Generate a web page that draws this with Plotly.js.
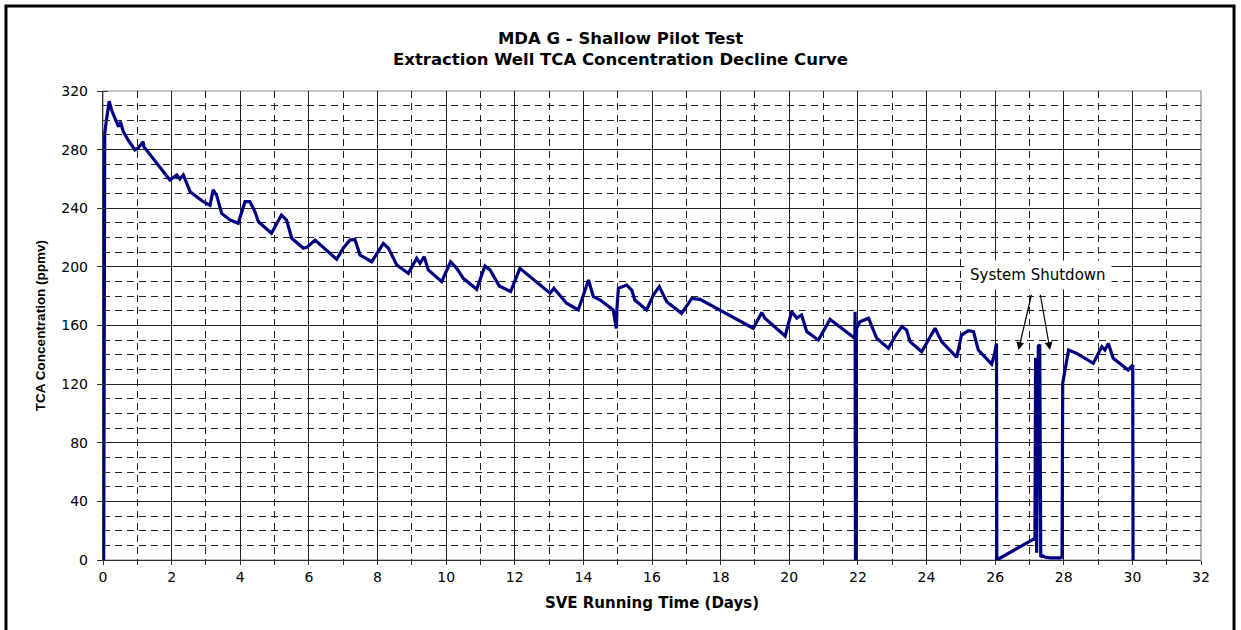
<!DOCTYPE html>
<html>
<head>
<meta charset="utf-8">
<script src="https://cdn.plot.ly/plotly-3.0.1.min.js"></script>
<style>
html,body{margin:0;padding:0;background:#fff;}
#chart{width:1241px;height:630px;}
</style>
</head>
<body>
<div id="chart"></div>
<script>
// SVE running time (days)
const days = [
  0.02, 0.03, 0.05, 0.1, 0.18, 0.25, 0.35, 0.45, 0.51, 0.59, 0.73, 0.93, 1.02, 1.17, 1.19,
  1.95, 2.15, 2.24, 2.34, 2.54, 2.73, 2.92, 3.12, 3.21, 3.31, 3.46, 3.7, 3.94,
  4.14, 4.28, 4.43, 4.53, 4.91, 5.2, 5.35, 5.5, 5.84, 5.95, 6.18, 6.52, 6.81, 7.0, 7.2, 7.34, 7.49, 7.83,
  8.17, 8.32, 8.56, 8.9, 9.14, 9.24, 9.36, 9.48, 9.87, 10.13, 10.31, 10.5, 10.89, 11.13, 11.28, 11.55, 11.88, 12.15,
  13.03, 13.14, 13.27, 13.51, 13.85, 14.15, 14.29, 14.49, 14.87, 14.96, 14.98, 15.02, 15.26, 15.41, 15.5, 15.84,
  16.04, 16.21, 16.43, 16.86, 17.16, 17.4,
  18.95, 19.2, 19.29, 19.88, 20.07, 20.22, 20.36, 20.51, 20.85, 21.19, 21.25,
  21.91, 21.92, 21.93, 21.96, 22.06, 22.31, 22.55, 22.89, 23.08, 23.28, 23.42, 23.52, 23.86,
  24.25, 24.44, 24.88, 25.02, 25.22, 25.37, 25.51, 25.9, 25.98, 26.04, 26.05,
  27.16, 27.18, 27.21, 27.26, 27.3, 27.33, 27.37, 27.45, 27.6, 27.9, 27.95, 27.97,
  28.14, 28.38, 28.67, 28.86, 29.11, 29.2, 29.3, 29.44, 29.88, 30.01, 30.02
];
// TCA concentration (ppmv)
const tca = [
  0, 150, 291, 300, 313, 307, 301, 295.6, 299, 292.4, 286.6, 279.8, 281, 285.4, 282,
  259.3, 262.7, 260, 262.7, 251.3, 247.9, 244.5, 242, 252.5, 249, 236.5, 232, 229.7,
  244.5, 244.5, 237.6, 230.8, 223, 235.4, 232, 219.5, 212.7, 213.5, 218.3, 211.5, 205.2, 212.7, 218.3, 218.8, 208.1, 203.5,
  216, 212.7, 201.3, 195.6, 205.9, 202.4, 207, 197.9, 189.9, 203.5, 199, 192.2, 184.7, 200.6, 197.9, 187, 183.1, 199,
  182, 185.4, 182, 175.2, 170.6, 191, 179.7, 177.4, 170.6, 158, 172, 185.4, 187.6, 184.2, 177.4, 170.6,
  180.8, 186.5, 176.2, 168.3, 178.5, 177.8,
  158.1, 168.8, 165, 152.8, 169.4, 165, 167.2, 155.8, 150.1, 164.2, 163,
  151.3, 169.4, 0, 158, 162.6, 165, 151.3, 144.4, 152.4, 159.2, 156.9, 149, 142.1,
  158.1, 149, 138.3, 153.5, 156.5, 155.8, 143.3, 133.7, 140, 147.8, 0,
  14.8, 138, 5, 146, 147, 2, 3, 2, 1.5, 1.5, 2, 120.6,
  143.3, 141, 136.5, 134.2, 145.5, 143.3, 147.8, 137.6, 129.6, 133, 0
];

const titleText = '<b>MDA G - Shallow Pilot Test<br>Extraction Well TCA Concentration Decline Curve</b>';
const xTitle = '<b>SVE Running Time (Days)</b>';
const yTitle = '<b>TCA Concentration (ppmv)</b>';
const noteText = 'System Shutdown';

const FONT = 'DejaVu Sans, Liberation Sans, Arial, sans-serif';
const NARROW = 'Liberation Sans Narrow, Liberation Sans, Arial, sans-serif';

const trace = {
  x: days, y: tca, type: 'scatter', mode: 'lines',
  line: {color: '#000080', width: 3.2},
  hoverinfo: 'skip', showlegend: false
};

const layout = {
  width: 1241, height: 630,
  margin: {l: 103, r: 40, t: 91, b: 70},
  paper_bgcolor: '#ffffff', plot_bgcolor: '#ffffff',
  font: {family: FONT, color: '#000', size: 13},
  title: {
    text: titleText, font: {family: FONT, size: 16.5, color: '#000'},
    xref: 'container', x: 0.5, xanchor: 'center',
    yref: 'container', y: 1 - 44/630, yanchor: 'top'
  },
  xaxis: {
    range: [0, 32], dtick: 2, tick0: 0,
    showline: true, linecolor: '#333', linewidth: 1.2,
    ticks: 'outside', ticklen: 4, tickcolor: '#333', tickwidth: 1,
    showgrid: true, gridcolor: '#222', gridwidth: 1,
    minor: {dtick: 1, showgrid: true, gridcolor: '#222', gridwidth: 1, griddash: '7px,5px',
            ticks: 'outside', ticklen: 4, tickcolor: '#333'},
    zeroline: false,
    tickfont: {family: FONT, size: 14, color: '#000'},
    title: {text: xTitle, font: {family: FONT, size: 15, color: '#000'}, standoff: 13},
    automargin: false
  },
  yaxis: {
    range: [0, 320], dtick: 40, tick0: 0,
    showline: true, linecolor: '#333', linewidth: 1.2,
    ticks: 'outside', ticklen: 5, tickcolor: '#333', tickwidth: 1,
    ticklabelstandoff: 6,
    showgrid: true, gridcolor: '#222', gridwidth: 1,
    minor: {dtick: 10, showgrid: true, gridcolor: '#222', gridwidth: 1, griddash: '7px,5px',
            ticks: 'inside', ticklen: 5, tickcolor: '#333'},
    zeroline: false,
    tickfont: {family: FONT, size: 14, color: '#000'},
    title: {text: yTitle, font: {family: NARROW, size: 13.5, color: '#000'}, standoff: 12},
    automargin: false
  },
  shapes: [
    {type: 'rect', xref: 'paper', yref: 'paper', x0: 0, x1: 1, y0: 0, y1: 1,
     line: {color: '#8c8c8c', width: 1.2}, layer: 'below'},
    {type: 'rect', xref: 'paper', yref: 'paper',
     x0: (6 - 103) / 1098, x1: (1234 - 103) / 1098,
     y0: (560 - 633) / 469, y1: (560 - 6) / 469,
     line: {color: '#000', width: 3}}
  ],
  annotations: [
    {x: 27.25, y: 194.5, xref: 'x', yref: 'y', text: noteText, showarrow: false,
     font: {family: FONT, size: 15, color: '#000'}, bgcolor: '#ffffff', borderpad: 5},
    {x: 26.68, y: 143.3, ax: 27.07, ay: 182, xref: 'x', yref: 'y', axref: 'x', ayref: 'y',
     text: '', showarrow: true, arrowhead: 2, arrowsize: 1.3, arrowwidth: 1.2, arrowcolor: '#000'},
    {x: 27.6, y: 143.3, ax: 27.31, ay: 182, xref: 'x', yref: 'y', axref: 'x', ayref: 'y',
     text: '', showarrow: true, arrowhead: 2, arrowsize: 1.3, arrowwidth: 1.2, arrowcolor: '#000'}
  ]
};

Plotly.newPlot('chart', [trace], layout, {staticPlot: true, displayModeBar: false});
</script>
</body>
</html>
